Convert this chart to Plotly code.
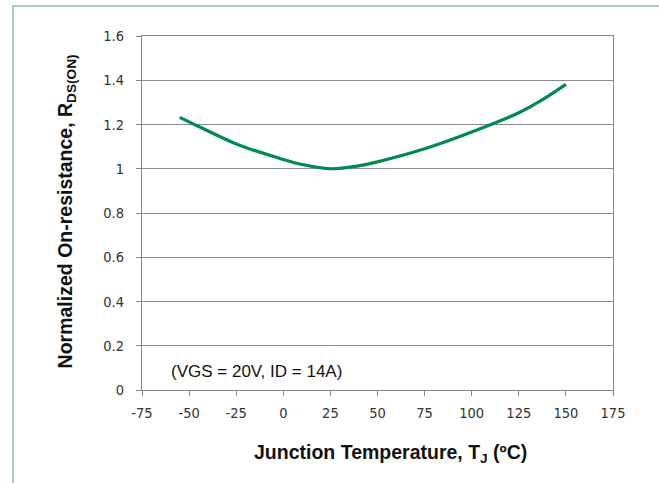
import plotly.graph_objects as go

# Normalized on-resistance vs junction temperature
temp_c = [-55, -50, -25, 0, 10, 25, 40, 50, 75, 100, 125, 140, 150]
rds_norm = [1.232, 1.212, 1.112, 1.042, 1.019, 1.0, 1.013, 1.031, 1.09, 1.166, 1.253, 1.325, 1.381]

x_ticks = [-75, -50, -25, 0, 25, 50, 75, 100, 125, 150, 175]
y_ticks = [0, 0.2, 0.4, 0.6, 0.8, 1, 1.2, 1.4, 1.6]
y_tick_text = ["0", "0.2", "0.4", "0.6", "0.8", "1", "1.2", "1.4", "1.6"]

tick_font = dict(family="Liberation Sans Narrow, Arial Narrow, DejaVu Sans Condensed, Liberation Sans, Arial",
                 size=14.5, color="#333333")
title_font = dict(family="Liberation Sans, Arial", size=19.5, color="#111111")

fig = go.Figure()

fig.add_trace(go.Scatter(
    x=temp_c,
    y=rds_norm,
    mode="lines",
    line=dict(color="#008a4f", width=3.2, shape="spline", smoothing=0.7),
    showlegend=False,
    hoverinfo="skip",
))

fig.add_annotation(
    x=-14, y=0.085, xref="x", yref="y",
    text="(VGS = 20V, ID = 14A)",
    showarrow=False,
    font=dict(family="Liberation Sans, Arial", size=17, color="#111111"),
)

# axis titles placed as annotations to match the reference position
fig.add_annotation(
    x=0.527, y=-0.178, xref="paper", yref="paper",
    xanchor="center", yanchor="middle",
    text="<b>Junction Temperature, T<sub>J</sub> (ºC)</b>",
    showarrow=False,
    font=title_font,
)
fig.add_annotation(
    x=-0.161, y=0.505, xref="paper", yref="paper",
    xanchor="center", yanchor="middle",
    textangle=-90,
    text="<b>Normalized On-resistance, R<sub>DS(ON)</sub></b>",
    showarrow=False,
    font=title_font,
)

# green frame around the figure (left and top edges visible)
fig.add_shape(
    type="rect", xref="paper", yref="paper",
    x0=-0.274, x1=1.3, y0=-0.5, y1=1.085,
    line=dict(color="#7dc59c", width=1.5),
    layer="below",
)

fig.update_layout(
    width=659,
    height=483,
    margin=dict(l=142, r=46, t=36, b=93),
    paper_bgcolor="white",
    plot_bgcolor="white",
    xaxis=dict(
        range=[-75, 175],
        tickvals=x_ticks,
        ticktext=[str(v) for v in x_ticks],
        ticks="outside",
        ticklen=5,
        tickcolor="#888888",
        ticklabelstandoff=4,
        showgrid=False,
        zeroline=False,
        showline=True,
        linecolor="#888888",
        linewidth=1.3,
        mirror=True,
        tickfont=tick_font,
    ),
    yaxis=dict(
        range=[0, 1.6],
        tickvals=y_ticks,
        ticktext=y_tick_text,
        ticks="outside",
        ticklen=5,
        tickcolor="#888888",
        ticklabelstandoff=9,
        showgrid=True,
        gridcolor="#8c8c8c",
        gridwidth=1,
        zeroline=False,
        showline=True,
        linecolor="#888888",
        linewidth=1.3,
        mirror=True,
        tickfont=tick_font,
    ),
)

# drop the default page margin so the figure sits at the window corner
fig.write_html("out.html", config={"displayModeBar": False},
               post_script="document.body.style.margin='0';")
